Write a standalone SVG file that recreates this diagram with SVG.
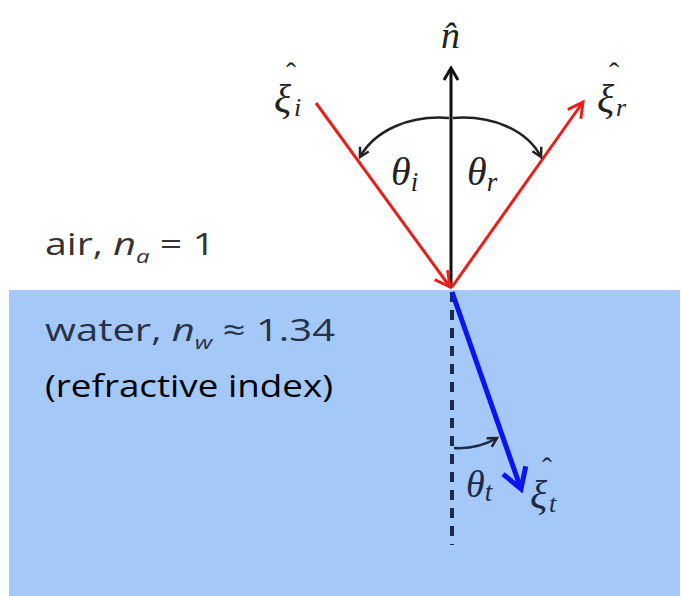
<svg xmlns="http://www.w3.org/2000/svg" width="681" height="596" viewBox="0 0 681 596">
<style>
.lbl{font-family:"Open Sans","Liberation Sans",sans-serif;font-size:31px;font-weight:500}
.math{font-family:"Liberation Serif","DejaVu Serif",serif;font-style:italic}
.hat{font-size:30px;font-style:normal}
</style>
<defs>
<marker id="headK" viewBox="0 0 20 20" refX="18" refY="10" markerWidth="20" markerHeight="20" orient="auto" markerUnits="userSpaceOnUse">
<path d="M6 3 L18 10 L6 17" fill="none" stroke="#111" stroke-width="3"/>
</marker>
<marker id="headR" viewBox="0 0 24 24" refX="21" refY="12" markerWidth="24" markerHeight="24" orient="auto" markerUnits="userSpaceOnUse">
<path d="M6 4 L21 12 L6 20" fill="none" stroke="#e8201c" stroke-width="3"/>
</marker>
<marker id="headB" viewBox="0 0 34 34" refX="30" refY="17" markerWidth="34" markerHeight="34" orient="auto" markerUnits="userSpaceOnUse">
<path d="M10 5 L30 17 L10 29" fill="none" stroke="#0a14f0" stroke-width="5"/>
</marker>
<marker id="headS" viewBox="0 0 16 16" refX="13" refY="8" markerWidth="16" markerHeight="16" orient="auto" markerUnits="userSpaceOnUse">
<path d="M4 3 L13 8 L4 13" fill="none" stroke="#222" stroke-width="2.5"/>
</marker>
</defs>
<rect width="681" height="596" fill="#ffffff"/>
<g id="water"><rect x="9" y="290" width="671" height="306" fill="#a4c8f8"/></g>
<g id="labels">
<text class="lbl" x="45" y="255" fill="#333" textLength="170" lengthAdjust="spacingAndGlyphs">air, <tspan font-style="italic">n</tspan><tspan font-style="italic" font-size="19" dy="8">a</tspan><tspan dy="-8"> = 1</tspan></text>
<text class="lbl" x="45" y="341" fill="#273246" textLength="290" lengthAdjust="spacingAndGlyphs">water, <tspan font-style="italic">n</tspan><tspan font-style="italic" font-size="19" dy="8">w</tspan><tspan dy="-8"> ≈ 1.34</tspan></text>
<text class="lbl" x="45" y="397" fill="#000" font-weight="400" textLength="288" lengthAdjust="spacingAndGlyphs">(refractive index)</text>
</g>
<g id="connectors">
<line x1="452" y1="292" x2="452" y2="545" stroke="#1c2a48" stroke-width="4" stroke-dasharray="10,8"/>
<line x1="451" y1="288" x2="451" y2="68" stroke="#111" stroke-width="3" marker-end="url(#headK)"/>
<line x1="316" y1="103" x2="450" y2="287" stroke="#e8201c" stroke-width="3" marker-end="url(#headR)"/>
<line x1="452" y1="287" x2="583" y2="102" stroke="#e8201c" stroke-width="3" marker-end="url(#headR)"/>
<line x1="452" y1="292" x2="521" y2="489" stroke="#0a14f0" stroke-width="5" marker-end="url(#headB)"/>
<path d="M449 118 C 410 115, 375 130, 360 157" fill="none" stroke="#222" stroke-width="2.5" marker-end="url(#headS)"/>
<path d="M453 118 C 492 115, 527 130, 541 157" fill="none" stroke="#222" stroke-width="2.5" marker-end="url(#headS)"/>
<path d="M454 448 C 470 449, 485 445, 497 438" fill="none" stroke="#1c2a48" stroke-width="2.5" marker-end="url(#headS)"/>
</g>
<g id="math" class="math" fill="#222">
<text x="441" y="48" font-size="38">n̂</text>
<text x="274" y="112" font-size="40">ξ<tspan class="hat" x="286" dy="-29">ˆ</tspan><tspan font-size="26" x="294" dy="33">i</tspan></text>
<text x="597" y="112" font-size="40">ξ<tspan class="hat" x="609" dy="-29">ˆ</tspan><tspan font-size="26" x="616" dy="33">r</tspan></text>
<text x="391" y="185" font-size="40">θ<tspan font-size="27" dy="6">i</tspan></text>
<text x="467" y="185" font-size="40">θ<tspan font-size="27" dy="6">r</tspan></text>
<text x="466" y="497" font-size="38" fill="#1c2a48">θ<tspan font-size="27" dy="4">t</tspan></text>
<text x="530" y="508" font-size="40" fill="#1c2a48">ξ<tspan class="hat" x="542" dy="-30">ˆ</tspan><tspan font-size="26" x="549" dy="34">t</tspan></text>
</g>
</svg>
